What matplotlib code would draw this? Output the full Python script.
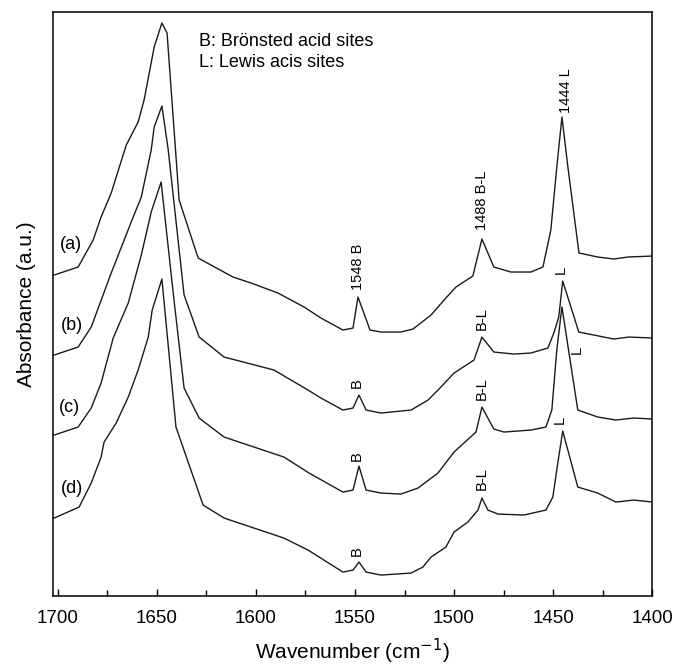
import numpy as np
import matplotlib
matplotlib.use("Agg")
import matplotlib.pyplot as plt
from matplotlib.ticker import MultipleLocator

plt.rcParams['font.family'] = ['Liberation Sans', 'DejaVu Sans']

# === 1. Spectra (wavenumber in cm-1, absorbance offset, a.u.) ===
wn_a = [1701.9, 1689.8, 1682.2, 1678.2, 1673.1, 1665.5, 1659.5, 1656.5, 1651.4, 1647.5,
        1644.9, 1638.8, 1629.2, 1611.6, 1602.5, 1588.9, 1575.7, 1567.2, 1556.1, 1551.0,
        1548.5, 1542.4, 1536.9, 1526.8, 1520.7, 1511.6, 1504.1, 1499.0, 1490.5, 1485.9,
        1479.9, 1471.3, 1461.2, 1455.1, 1451.1, 1448.1, 1445.5, 1442.5, 1436.9, 1427.4,
        1419.3, 1412.2, 1399.6]
abs_a = [3.21, 3.29, 3.56, 3.79, 4.03, 4.51, 4.74, 4.96, 5.49, 5.73,
         5.63, 3.96, 3.38, 3.19, 3.13, 3.03, 2.89, 2.78, 2.66, 2.68,
         2.99, 2.66, 2.64, 2.64, 2.67, 2.81, 2.98, 3.09, 3.20, 3.57,
         3.29, 3.24, 3.24, 3.29, 3.66, 4.29, 4.79, 4.29, 3.43, 3.39,
         3.37, 3.39, 3.40]

wn_b = [1701.9, 1689.8, 1683.2, 1673.1, 1663.0, 1657.9, 1652.9, 1651.4, 1647.5, 1644.3,
        1636.3, 1628.7, 1616.1, 1590.9, 1573.7, 1567.2, 1556.1, 1551.0, 1548.0, 1544.4,
        1536.9, 1521.7, 1513.1, 1506.6, 1500.0, 1489.9, 1485.9, 1479.9, 1469.8, 1461.2,
        1452.6, 1449.6, 1447.1, 1445.1, 1437.0, 1419.3, 1411.7, 1399.6]
abs_b = [2.41, 2.49, 2.69, 3.23, 3.74, 3.99, 4.46, 4.69, 4.90, 4.46,
         3.01, 2.59, 2.39, 2.26, 2.06, 1.98, 1.86, 1.88, 2.01, 1.86,
         1.83, 1.86, 1.96, 2.09, 2.23, 2.36, 2.59, 2.44, 2.42, 2.43,
         2.48, 2.63, 2.79, 3.15, 2.64, 2.57, 2.59, 2.58]

wn_c = [1701.9, 1689.8, 1683.2, 1678.2, 1672.1, 1664.5, 1657.9, 1652.9, 1647.9, 1641.4,
        1636.3, 1628.7, 1616.1, 1585.9, 1573.2, 1556.1, 1551.0, 1548.0, 1544.4, 1536.9,
        1526.8, 1518.2, 1508.1, 1500.0, 1488.9, 1485.9, 1479.9, 1474.8, 1461.2, 1453.6,
        1450.6, 1448.1, 1445.5, 1437.5, 1427.4, 1418.3, 1409.2, 1399.6]
abs_c = [1.61, 1.69, 1.88, 2.13, 2.58, 2.93, 3.41, 3.84, 4.14, 2.96,
         2.08, 1.78, 1.59, 1.39, 1.23, 1.04, 1.06, 1.30, 1.06, 1.03,
         1.02, 1.08, 1.23, 1.44, 1.64, 1.89, 1.67, 1.64, 1.66, 1.69,
         1.86, 2.46, 2.89, 1.86, 1.79, 1.76, 1.78, 1.77]

wn_d = [1701.9, 1689.3, 1683.2, 1678.2, 1676.7, 1670.6, 1664.5, 1659.5, 1654.4, 1652.4,
        1647.5, 1646.5, 1640.4, 1626.7, 1616.1, 1585.9, 1573.7, 1556.1, 1551.0, 1548.0,
        1544.4, 1536.9, 1521.7, 1515.7, 1511.6, 1504.1, 1500.0, 1493.0, 1487.9, 1485.9,
        1482.9, 1477.8, 1464.7, 1453.6, 1450.1, 1447.6, 1445.1, 1437.5, 1427.4, 1418.3,
        1409.2, 1399.6]
abs_d = [0.78, 0.89, 1.13, 1.39, 1.54, 1.73, 1.99, 2.26, 2.59, 2.86,
         3.17, 2.96, 1.69, 0.91, 0.78, 0.58, 0.46, 0.24, 0.26, 0.34,
         0.24, 0.21, 0.23, 0.29, 0.39, 0.49, 0.64, 0.74, 0.86, 0.98,
         0.86, 0.82, 0.81, 0.86, 0.99, 1.33, 1.65, 1.09, 1.03, 0.94,
         0.96, 0.94]

spectra = [(wn_a, abs_a, "(a)"), (wn_b, abs_b, "(b)"),
           (wn_c, abs_c, "(c)"), (wn_d, abs_d, "(d)")]

# series label positions (wavenumber, absorbance)
series_pos = [(1693.5, 3.52), (1693, 2.71), (1694, 1.89), (1693, 1.08)]

# peak labels: text, wavenumber, absorbance at text anchor, vertical align
peak_labels = [
    ("1548 B", 1548.5, 3.06, "bottom"), ("1488 B-L", 1486.0, 3.66, "bottom"),
    ("1444 L", 1443.5, 4.83, "bottom"),
    ("B", 1549.0, 2.08, "bottom"), ("B-L", 1486.0, 2.66, "bottom"),
    ("L", 1446.0, 3.22, "bottom"),
    ("B", 1549.0, 1.35, "bottom"), ("B-L", 1486.0, 1.96, "bottom"),
    ("L", 1438.0, 2.46, "center"),
    ("B", 1549.0, 0.40, "bottom"), ("B-L", 1486.0, 1.06, "bottom"),
    ("L", 1446.5, 1.72, "bottom"),
]

# === 2. Figure ===
fig = plt.figure(figsize=(6.75, 6.66), dpi=100)
ax = fig.add_axes([0.0785, 0.105, 0.8875, 0.877])

for wn, ab, name in spectra:
    ax.plot(wn, ab, color="#1a1a1a", lw=1.0)

for (x, y), (_, _, name) in zip(series_pos, spectra):
    ax.text(x, y, name, fontsize=13, ha="center", va="center")

for txt, x, y, va in peak_labels:
    ax.text(x, y, txt, rotation=90, fontsize=10.5, ha="center", va=va)

ax.text(0.244, 0.949, "B: Brönsted acid sites", transform=ax.transAxes,
        fontsize=13, va="center")
ax.text(0.244, 0.914, "L: Lewis acis sites", transform=ax.transAxes,
        fontsize=13, va="center")

ax.set_xlim(1702.5, 1400)
ax.set_ylim(0, 5.84)
ax.xaxis.set_major_locator(MultipleLocator(50))
ax.xaxis.set_minor_locator(MultipleLocator(25))
ax.tick_params(axis="x", which="both", direction="in", labelsize=13.5, pad=10)
ax.tick_params(axis="x", which="major", length=5, width=1)
ax.tick_params(axis="x", which="minor", length=4, width=1)
ax.set_yticks([])
for s in ax.spines.values():
    s.set_linewidth(1.1)

ax.set_xlabel("Wavenumber (cm$^{-1}$)", fontsize=15, labelpad=7)
ax.set_ylabel("Absorbance (a.u.)", fontsize=15, labelpad=12)

fig.savefig("out.png", dpi=100)
